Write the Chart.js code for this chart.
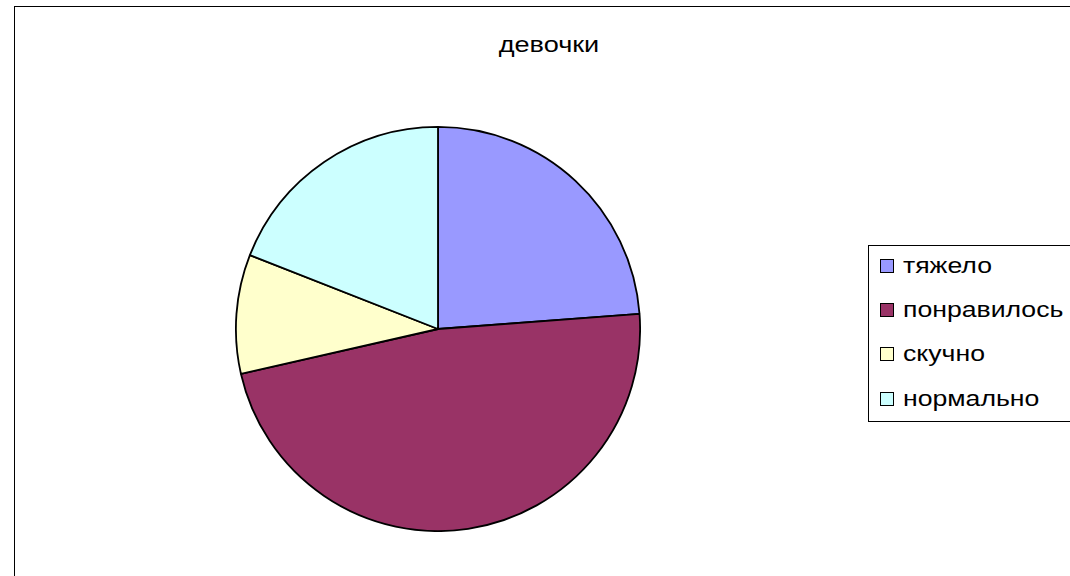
<!DOCTYPE html>
<html>
<head>
<meta charset="utf-8">
<script src="https://cdn.jsdelivr.net/npm/chart.js@4"></script>
<style>
    body { margin: 0; background: #fff; overflow: hidden; font-family: "Liberation Sans", Arial, sans-serif; }
    #frame { position: absolute; left: 14px; top: 6px; width: 1100px; height: 620px; border: 1px solid #000; box-sizing: border-box; }
    #title { position: absolute; left: 449px; width: 200px; top: 32px; text-align: center; font-size: 22px; color: #000; transform: scaleX(1.23); }
    #pieWrap { position: absolute; left: 235px; top: 126px; width: 406px; height: 406px; }
    #legend { position: absolute; left: 868px; top: 245px; width: 260px; height: 177px; border: 1px solid #000; box-sizing: border-box; }
    .item { position: absolute; left: 11px; height: 24px; line-height: 24px; white-space: nowrap; }
    .box { position: absolute; left: 0; top: 5px; width: 14px; height: 14px; border: 1.5px solid #000; box-sizing: border-box; }
    .label { position: absolute; left: 23px; top: 0; font-size: 22px; transform: scaleX(1.21); transform-origin: left center; }
</style>
</head>
<body>
<div id="frame"></div>
<div id="title">девочки</div>
<div id="pieWrap"><canvas id="pieChart"></canvas></div>
<div id="legend"></div>

<script>
// chart data
const categories = ["тяжело", "понравилось", "скучно", "нормально"];
const values = [5, 10, 2, 4];
const sliceColors = ["#9999FF", "#993366", "#FFFFCC", "#CCFFFF"];

document.addEventListener('DOMContentLoaded', function () {
    // legend as html
    const legend = document.getElementById('legend');
    categories.forEach(function (name, i) {
        const row = document.createElement('div');
        row.className = 'item';
        row.style.top = (8 + i * 44.2) + 'px';
        const box = document.createElement('span');
        box.className = 'box';
        box.style.background = sliceColors[i];
        const label = document.createElement('span');
        label.className = 'label';
        label.textContent = name;
        row.appendChild(box);
        row.appendChild(label);
        legend.appendChild(row);
    });

    new Chart(document.getElementById('pieChart'), {
        type: 'pie',
        data: {
            labels: categories,
            datasets: [{
                data: values,
                backgroundColor: sliceColors,
                borderColor: '#000',
                borderWidth: 1.8,
            }],
        },
        options: {
            responsive: true,
            maintainAspectRatio: false,
            animation: false,
            layout: { padding: 0 },
            plugins: {
                legend: { display: false },
                title: { display: false },
                tooltip: { enabled: false },
            },
        },
    });
});
</script>
</body>
</html>
